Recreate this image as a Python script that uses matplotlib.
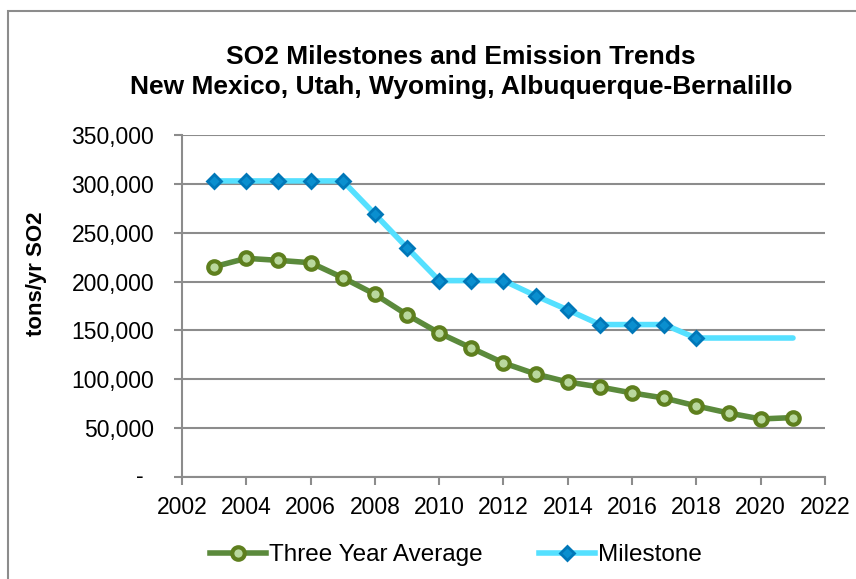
import matplotlib
matplotlib.use("Agg")
import matplotlib.pyplot as plt
from matplotlib.patches import Rectangle
from matplotlib.ticker import FuncFormatter

plt.rcParams["font.family"] = ["Liberation Sans", "DejaVu Sans"]

# data
years = list(range(2003, 2022))
three_year_avg = [215200, 223800, 221700, 219300, 204000, 187000, 166000, 147400,
                  132000, 116700, 105400, 97200, 92100, 86000, 80800, 72700,
                  65500, 59400, 60800]
milestone_years = list(range(2003, 2019))
milestone = [303000, 303000, 303000, 303000, 303000, 269000, 234700, 201000,
             201000, 201000, 185500, 171000, 156000, 156000, 156000, 142000]
milestone_ext_years = [2018, 2021]
milestone_ext = [142000, 142000]

fig = plt.figure(figsize=(8.56, 5.79), dpi=100)
ax = fig.add_axes([182 / 856, 1 - 477 / 579, (825 - 182) / 856, (477 - 135) / 579])

green = "#5B8A3C"
cyan = "#55E0FF"

ax.plot(years, three_year_avg, color=green, lw=4, marker="o", ms=9,
        mfc="#B9D89E", mec="#5E7F1E", mew=3, label="Three Year Average", zorder=3)
ax.plot(milestone_ext_years, milestone_ext, color=cyan, lw=4, solid_capstyle="round", zorder=2)
ax.plot(milestone_years, milestone, color=cyan, lw=4, marker="D", ms=7.5,
        mfc="#0A8FCF", mec="#0077B8", mew=2, label="Milestone", zorder=3)

ax.set_xlim(2002, 2022)
ax.set_ylim(0, 350000)
ax.set_xticks(range(2002, 2023, 2))
ax.set_yticks(range(0, 350001, 50000))
# zero gets Excel's accounting dash, drawn separately below
ax.yaxis.set_major_formatter(FuncFormatter(lambda v, p: "" if v == 0 else f"{int(v):,}"))
ax.text(-0.065, 0, "-", transform=ax.get_yaxis_transform(), ha="center", va="center",
        fontsize=16.5)
ax.grid(axis="y", color="#8C8C8C", lw=1.5)
ax.set_axisbelow(True)
for s in ["top", "right"]:
    ax.spines[s].set_visible(False)
for s in ["left", "bottom"]:
    ax.spines[s].set_color("#8C8C8C")
    ax.spines[s].set_linewidth(1.5)
ax.tick_params(axis="both", labelsize=16.5, color="#8C8C8C", length=6, width=1.5)
ax.tick_params(axis="y", pad=14)
ax.tick_params(axis="x", pad=8)
ax.set_ylabel("tons/yr SO2", fontsize=16, fontweight="bold")
ax.yaxis.set_label_coords(-0.21, 0.594)

fig.text(461 / 856, 1 - 72 / 579,
         "SO2 Milestones and Emission Trends\nNew Mexico, Utah, Wyoming, Albuquerque-Bernalillo",
         ha="center", va="center", fontsize=19, fontweight="bold", linespacing=1.35)

fig.legend(loc="center", bbox_to_anchor=(456 / 856, 1 - 555 / 579), ncol=2, frameon=False,
           fontsize=17.5, handlelength=2.3, columnspacing=2.3, handletextpad=0.12)

fig.patches.append(Rectangle((8 / 856, -0.1), 1.2, 1.1 - 11 / 579, transform=fig.transFigure,
                             fill=False, ec="#8C8C8C", lw=1.5))

fig.savefig("out.png", dpi=100)
